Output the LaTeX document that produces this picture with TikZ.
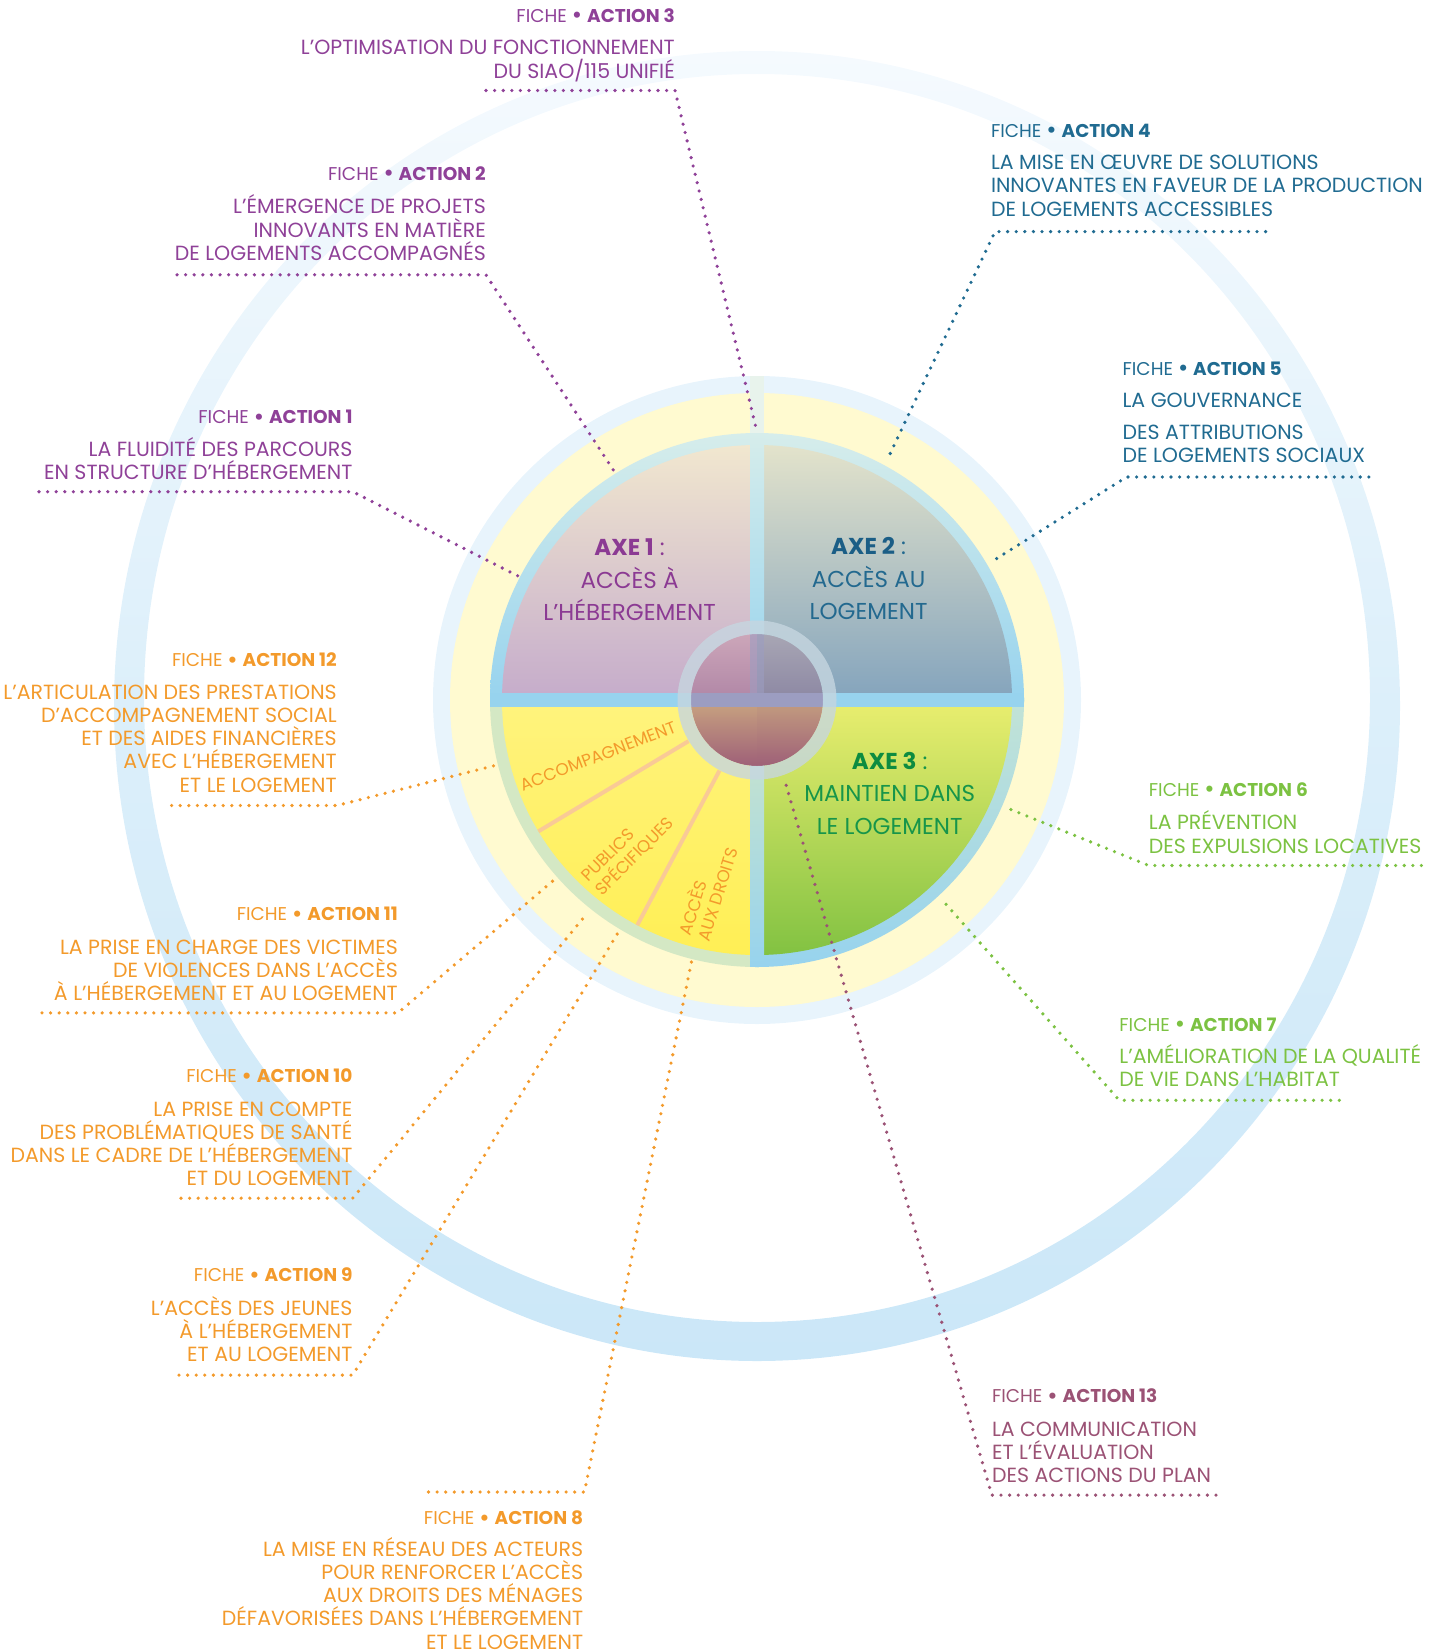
\documentclass[tikz,border=0pt]{standalone}
\usepackage{fontspec}
\setmainfont{Poppins}
\definecolor{cPur}{HTML}{8F4198}
\definecolor{cBlu}{HTML}{206B91}
\definecolor{cGrn}{HTML}{7CC242}
\definecolor{cOra}{HTML}{F39A2B}
\definecolor{cMau}{HTML}{9B5275}
\definecolor{cAxA}{HTML}{8B3A93}
\definecolor{cAxBb}{HTML}{1B5E86}
\definecolor{cAxB}{HTML}{23698F}
\definecolor{cAxCb}{HTML}{0D8C40}
\definecolor{cAxC}{HTML}{17954A}
\definecolor{ringT}{HTML}{F5FAFE}
\definecolor{ringM}{HTML}{DCEFFA}
\definecolor{ringB}{HTML}{CBE7F8}
\definecolor{haloBlue}{HTML}{E8F4FC}
\definecolor{haloYel}{HTML}{FFFAD0}
\definecolor{faintbar}{HTML}{E8F3EC}
\definecolor{ringTop}{HTML}{D6EDEB}
\definecolor{ringBlu}{HTML}{97D3EE}
\definecolor{ringGrn}{HTML}{D4E8C4}
\definecolor{ringGB}{HTML}{C2E3D6}
\definecolor{barLow}{HTML}{CFE6C8}
\definecolor{qAt}{HTML}{F1E7CF}
\definecolor{qAb}{HTML}{C6ADCB}
\definecolor{qBt}{HTML}{E3E3CB}
\definecolor{qBb}{HTML}{86A5BD}
\definecolor{qCt}{HTML}{E7ED6E}
\definecolor{qCb}{HTML}{82C242}
\definecolor{qDt}{HTML}{FFF37C}
\definecolor{qDb}{HTML}{FFEF55}
\definecolor{segline}{HTML}{F9CA96}
\definecolor{iAt}{HTML}{CCA6B9}
\definecolor{iAb}{HTML}{B086A6}
\definecolor{iBt}{HTML}{A8A6B4}
\definecolor{iBb}{HTML}{8C87A3}
\definecolor{iDt}{HTML}{C9A480}
\definecolor{iDb}{HTML}{9E6078}
\definecolor{iCt}{HTML}{C49E7F}
\definecolor{iCb}{HTML}{9E6078}
\definecolor{ibar}{HTML}{9C9DC1}
\definecolor{gring}{HTML}{C6D6E0}
\newcommand{\bigbul}{\raisebox{-1.6pt}{\fontsize{25}{25}\selectfont •}}
\begin{document}
\begin{tikzpicture}[x=1pt,y=1pt,
  hdr/.style={inner sep=0pt, font=\fontsize{18.5}{23}\selectfont},
  bodytxt/.style={inner sep=0pt, font=\fontsize{20.5}{23.2}\selectfont},
  axetxt/.style={inner sep=0pt, align=center, font=\fontsize{23}{32.6}\selectfont},
  segtxt/.style={inner sep=0pt, text=cOra, font=\fontsize{17}{19.5}\selectfont},
  dots/.style={line width=3.6pt, line cap=round, dash pattern=on 0pt off 8.6pt},
  re/.style={anchor=base east, align=right},
  le/.style={anchor=base west, align=left},
  segl/.style={draw=segline, line width=4pt}
]
\useasboundingbox (0,0) rectangle (1454,-1651);
\clip (0,0) rectangle (1454,-1651);
\coordinate (C) at (757,-700);

% big outer ring
\shade[even odd rule, top color=ringT, bottom color=ringB, middle color=ringM]
  (757,-706) ellipse[x radius=643, y radius=655] (757,-698) ellipse[x radius=613, y radius=624];

% halo discs
\fill[haloBlue] (C) circle[radius=324];
\fill[haloYel] (C) circle[radius=307];
\fill[faintbar] (750,-376) rectangle (764,-433);

% disc ring
\begin{scope}
  \clip (480,-420) rectangle (1035,-700);
  \shade[top color=ringTop, bottom color=ringBlu, middle color=ringBlu] (C) circle[radius=267];
\end{scope}
\begin{scope}
  \clip (480,-700) rectangle (757,-980);
  \fill[ringGrn] (C) circle[radius=267];
\end{scope}
\begin{scope}
  \clip (757,-700) rectangle (1035,-980);
  \shade[top color=ringGB, bottom color=ringBlu, middle color=ringGB] (C) circle[radius=267];
\end{scope}

% quadrants
\begin{scope}
  \clip (C) circle[radius=255];
  \shade[top color=qAt, bottom color=qAb] (480,-445) rectangle (750,-693);
  \shade[top color=qBt, bottom color=qBb] (764,-445) rectangle (1035,-693);
  \shade[top color=qDt, bottom color=qDb] (480,-707) rectangle (750,-955);
  \shade[top color=qCt, bottom color=qCb] (764,-707) rectangle (1035,-955);
\end{scope}

% separator bars
\begin{scope}
  \clip (C) circle[radius=267];
  \fill[ringBlu] (480,-693) rectangle (1035,-707);
  \shade[top color=ringTop, bottom color=ringBlu] (750,-433) rectangle (764,-693);
  \shade[top color=barLow, bottom color=ringBlu] (750,-707) rectangle (764,-967);
\end{scope}

% segment lines in the lower-left quadrant
\draw[segl] ([shift={(211:80)}]C) -- ([shift={(211:255)}]C);
\draw[segl] ([shift={(242:80)}]C) -- ([shift={(242:255)}]C);

% inner disc
\begin{scope}
  \clip (C) circle[radius=66];
  \shade[top color=iAt, bottom color=iAb] (690,-634) rectangle (757,-700);
  \shade[top color=iBt, bottom color=iBb] (757,-634) rectangle (824,-700);
  \shade[top color=iDt, bottom color=iDb] (690,-700) rectangle (757,-766);
  \shade[top color=iCt, bottom color=iCb] (757,-700) rectangle (824,-766);
  \fill[ibar] (690,-693) rectangle (824,-707);
  \fill[ibar, opacity=0.6] (750,-634) rectangle (764,-693);
\end{scope}
\fill[gring, opacity=0.8, even odd rule] (C) circle[radius=79.5] (C) circle[radius=66];

% axis texts (anchor = baseline of last line)
\node[axetxt, text=cAxA, anchor=base] (ax1) at (629.6,-620.7)
  {\textbf{AXE 1} :\\ACCÈS À\\L’HÉBERGEMENT};
\node[axetxt, text=cAxB, anchor=base] (ax2) at (868.6,-619.6)
  {\textcolor{cAxBb}{\textbf{AXE 2}} :\\ACCÈS AU\\LOGEMENT};
\node[axetxt, text=cAxC, anchor=base] (ax3) at (889.7,-834.4)
  {\textcolor{cAxCb}{\textbf{AXE 3}} :\\MAINTIEN DANS\\LE LOGEMENT};

% segment texts
\node[segtxt, rotate=21] (s1) at (598,-756) {ACCOMPAGNEMENT};
\node[segtxt, rotate=45, align=left] (s2) at (628,-850) {PUBLICS\\SPÉCIFIQUES};
\node[segtxt, rotate=73, align=left] (s3) at (707,-891) {ACCÈS\\AUX DROITS};

% ---------- Action 3
\node[hdr,re,text=cPur] (h3) at (675,-22.3) {FICHE \bigbul\ \textbf{ACTION 3}};
\node[bodytxt,re,text=cPur] (t3) at (675,-78.1) {L’OPTIMISATION DU FONCTIONNEMENT\\DU SIAO/115 UNIFIÉ};
\coordinate (p3a) at (486,-90.5); \coordinate (p3b) at (675,-90.5); \coordinate (p3c) at (757,-432);
\draw[dots,cPur] (p3a) -- (p3b) -- (p3c);

% ---------- Action 2
\node[hdr,re,text=cPur] (h2) at (486,-180.2) {FICHE \bigbul\ \textbf{ACTION 2}};
\node[bodytxt,re,text=cPur] (t2) at (486,-260.3) {L’ÉMERGENCE DE PROJETS\\INNOVANTS EN MATIÈRE\\DE LOGEMENTS ACCOMPAGNÉS};
\coordinate (p2a) at (177,-274.8); \coordinate (p2b) at (486,-274.8); \coordinate (p2c) at (614,-471);
\draw[dots,cPur] (p2a) -- (p2b) -- (p2c);

% ---------- Action 1
\node[hdr,re,text=cPur] (h1) at (352.7,-423.5) {FICHE \bigbul\ \textbf{ACTION 1}};
\node[bodytxt,re,text=cPur] (t1) at (352.7,-479.2) {LA FLUIDITÉ DES PARCOURS\\EN STRUCTURE D’HÉBERGEMENT};
\coordinate (p1a) at (39,-491.7); \coordinate (p1b) at (352.7,-491.7); \coordinate (p1c) at (518,-576);
\draw[dots,cPur] (p1a) -- (p1b) -- (p1c);

% ---------- Action 4
\node[hdr,le,text=cBlu] (h4) at (990.8,-137.1) {FICHE \bigbul\ \textbf{ACTION 4}};
\node[bodytxt,le,text=cBlu] (t4) at (990.8,-216) {LA MISE EN ŒUVRE DE SOLUTIONS\\INNOVANTES EN FAVEUR DE LA PRODUCTION\\DE LOGEMENTS ACCESSIBLES};
\coordinate (p4a) at (1265.6,-231.6); \coordinate (p4b) at (995,-231.6); \coordinate (p4c) at (887.6,-459);
\draw[dots,cBlu] (p4a) -- (p4b) -- (p4c);

% ---------- Action 5
\node[hdr,le,text=cBlu] (h5) at (1122.4,-375) {FICHE \bigbul\ \textbf{ACTION 5}};
\node[bodytxt,le,text=cBlu] (t5a) at (1122.4,-407.6) {LA GOUVERNANCE};
\node[bodytxt,le,text=cBlu] (t5b) at (1122.4,-462.4) {DES ATTRIBUTIONS\\DE LOGEMENTS SOCIAUX};
\coordinate (p5a) at (1368.8,-477); \coordinate (p5b) at (1126.6,-477); \coordinate (p5c) at (990.8,-562.2);
\draw[dots,cBlu] (p5a) -- (p5b) -- (p5c);

% ---------- Action 6
\node[hdr,le,text=cGrn] (h6) at (1148.7,-796.2) {FICHE \bigbul\ \textbf{ACTION 6}};
\node[bodytxt,le,text=cGrn] (t6) at (1148.7,-853) {LA PRÉVENTION\\DES EXPULSIONS LOCATIVES};
\coordinate (p6a) at (1421.4,-865.5); \coordinate (p6b) at (1148.7,-865.5); \coordinate (p6c) at (1008.7,-808.6);
\draw[dots,cGrn] (p6a) -- (p6b) -- (p6c);

% ---------- Action 7
\node[hdr,le,text=cGrn] (h7) at (1119.2,-1031) {FICHE \bigbul\ \textbf{ACTION 7}};
\node[bodytxt,le,text=cGrn] (t7) at (1119.2,-1086.7) {L’AMÉLIORATION DE LA QUALITÉ\\DE VIE DANS L’HABITAT};
\coordinate (p7a) at (1339.3,-1100.3); \coordinate (p7b) at (1119.2,-1100.3); \coordinate (p7c) at (942.4,-900.2);
\draw[dots,cGrn] (p7a) -- (p7b) -- (p7c);

% ---------- Action 13
\node[hdr,le,text=cMau] (h13) at (991.8,-1402.6) {FICHE \bigbul\ \textbf{ACTION 13}};
\node[bodytxt,le,text=cMau] (t13) at (991.8,-1482.7) {LA COMMUNICATION\\ET L’ÉVALUATION\\DES ACTIONS DU PLAN};
\coordinate (p13a) at (1216,-1495.1); \coordinate (p13b) at (991.8,-1495.1); \coordinate (p13c) at (784.4,-779.1);
\draw[dots,cMau] (p13a) -- (p13b) -- (p13c);

% ---------- Action 12
\node[hdr,re,text=cOra] (h12) at (336.9,-666.7) {FICHE \bigbul\ \textbf{ACTION 12}};
\node[bodytxt,re,text=cOra] (t12) at (336.9,-792.1) {L’ARTICULATION DES PRESTATIONS\\D’ACCOMPAGNEMENT SOCIAL\\ET DES AIDES FINANCIÈRES\\AVEC L’HÉBERGEMENT\\ET LE LOGEMENT};
\coordinate (p12a) at (171.6,-805.5); \coordinate (p12b) at (336.9,-805.5); \coordinate (p12c) at (494.9,-765.5);
\draw[dots,cOra] (p12a) -- (p12b) -- (p12c);

% ---------- Action 11
\node[hdr,re,text=cOra] (h11) at (398,-920.4) {FICHE \bigbul\ \textbf{ACTION 11}};
\node[bodytxt,re,text=cOra] (t11) at (398,-1000.5) {LA PRISE EN CHARGE DES VICTIMES\\DE VIOLENCES DANS L’ACCÈS\\À L’HÉBERGEMENT ET AU LOGEMENT};
\coordinate (p11a) at (42,-1012.9); \coordinate (p11b) at (398,-1012.9); \coordinate (p11c) at (554.9,-879.2);
\draw[dots,cOra] (p11a) -- (p11b) -- (p11c);

% ---------- Action 10
\node[hdr,re,text=cOra] (h10) at (352.7,-1082.5) {FICHE \bigbul\ \textbf{ACTION 10}};
\node[bodytxt,re,text=cOra] (t10) at (352.7,-1185.8) {LA PRISE EN COMPTE\\DES PROBLÉMATIQUES DE SANTÉ\\DANS LE CADRE DE L’HÉBERGEMENT\\ET DU LOGEMENT};
\coordinate (p10a) at (181,-1198.2); \coordinate (p10b) at (352.7,-1198.2); \coordinate (p10c) at (587.5,-912.9);
\draw[dots,cOra] (p10a) -- (p10b) -- (p10c);

% ---------- Action 9
\node[hdr,re,text=cOra] (h9) at (352.7,-1281.5) {FICHE \bigbul\ \textbf{ACTION 9}};
\node[bodytxt,re,text=cOra] (t9) at (352.7,-1361.6) {L’ACCÈS DES JEUNES\\À L’HÉBERGEMENT\\ET AU LOGEMENT};
\coordinate (p9a) at (179,-1375.1); \coordinate (p9b) at (352.7,-1375.1); \coordinate (p9c) at (619.1,-930.8);
\draw[dots,cOra] (p9a) -- (p9b) -- (p9c);

% ---------- Action 8
\coordinate (p8a) at (428.5,-1492); \coordinate (p8b) at (584.4,-1492); \coordinate (p8c) at (691.8,-960.2);
\draw[dots,cOra] (p8a) -- (p8b) -- (p8c);
\node[hdr,re,text=cOra] (h8) at (583.3,-1524.8) {FICHE \bigbul\ \textbf{ACTION 8}};
\node[bodytxt,re,text=cOra] (t8) at (583.3,-1649) {LA MISE EN RÉSEAU DES ACTEURS\\POUR RENFORCER L’ACCÈS\\AUX DROITS DES MÉNAGES\\DÉFAVORISÉES DANS L’HÉBERGEMENT\\ET LE LOGEMENT};
\end{tikzpicture}
\end{document}
